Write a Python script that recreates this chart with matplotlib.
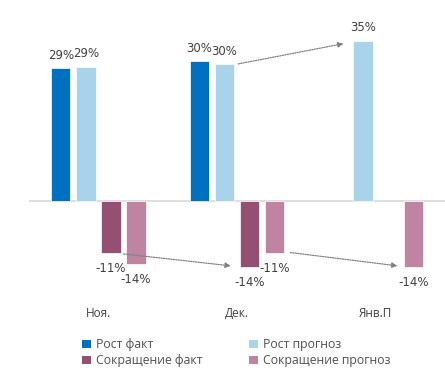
import matplotlib
matplotlib.use('Agg')
import matplotlib.pyplot as plt
from matplotlib.patches import Patch
import numpy as np

# data
months = ['Ноя.', 'Дек.', 'Янв.П']
series = ['Рост факт', 'Рост прогноз', 'Сокращение факт', 'Сокращение прогноз']
grow_fact = [28.9, 30.4, None]
grow_plan = [29.2, 29.7, 34.8]
cut_fact = [-11.3, -14.4, None]
cut_plan = [-13.7, -11.3, -14.4]
labels_grow_fact = ['29%', '30%', None]
labels_grow_plan = ['29%', '30%', '35%']
labels_cut_fact = ['-11%', '-14%', None]
labels_cut_plan = ['-14%', '-11%', '-14%']
colors = ['#0070C0', '#A9D3EA', '#954F72', '#C084A3']

plt.rcParams['font.family'] = ['Open Sans', 'DejaVu Sans']
num_font = ['Liberation Sans Narrow', 'DejaVu Sans']

fig = plt.figure(figsize=(4.45, 3.75), dpi=100)
ax = fig.add_axes([29/445, 1 - 293/375, 416/445, 276/375])

x = np.arange(len(months))
step = 0.1805
w = 0.14
px = 1 / 138.5  # one pixel in x data units
all_vals = [grow_fact, grow_plan, cut_fact, cut_plan]
all_labels = [labels_grow_fact, labels_grow_plan, labels_cut_fact, labels_cut_plan]

for i, (vals, labs, c) in enumerate(zip(all_vals, all_labels, colors)):
    off = (i - 1.5) * step
    for j, v in enumerate(vals):
        if v is None:
            continue
        ax.bar(x[j] + off, v, width=w, color=c, edgecolor='white', linewidth=0.5)
        if v > 0:
            ax.text(x[j] + off, v + 1.4, labs[j], ha='center', va='bottom',
                    fontsize=8.5, color='#404040', family=num_font)
        else:
            ax.text(x[j] + off, v - 1.9, labs[j], ha='center', va='top',
                    fontsize=8.5, color='#404040', family=num_font)

# dotted trend arrows
arrow = dict(arrowstyle='-|>', linestyle=(0, (1, 1)), color='#808080', lw=0.9,
             mutation_scale=8, shrinkA=0, shrinkB=0)
ax.annotate('', xy=(2 - 0.5 * step - w / 2 - 10 * px, grow_plan[2] - 0.6),
            xytext=(1 - 0.5 * step + w / 2 + 4 * px, grow_plan[1] + 0.1),
            arrowprops=arrow)
ax.annotate('', xy=(1 + 0.5 * step - w / 2 - 9 * px, cut_fact[1] + 0.3),
            xytext=(0 + 0.5 * step + w / 2 + 3 * px, cut_fact[0] - 0.2),
            arrowprops=arrow)
ax.annotate('', xy=(2 + 1.5 * step - w / 2 - 6 * px, cut_plan[2] + 0.3),
            xytext=(1 + 1.5 * step + w / 2 + 6 * px, cut_plan[1] + 0.1),
            arrowprops=arrow)

ax.axhline(0, color='#D9D9D9', lw=1.2, zorder=0)
ax.set_xlim(-0.5, 2.5)
ax.set_ylim(-20, 40)
for s in ax.spines.values():
    s.set_visible(False)
ax.set_yticks([])
ax.set_xticks(x)
ax.set_xticklabels(months, fontsize=8.5, color='#404040')
ax.tick_params(axis='x', length=0, pad=10)

# legend filled row by row like the original
order = [0, 2, 1, 3]
handles = [Patch(facecolor=colors[k], edgecolor='none') for k in order]
fig.legend(handles, [series[k] for k in order], loc='upper left',
           bbox_to_anchor=(0.16, 0.127), ncol=2, frameon=False, fontsize=8.8,
           handlelength=0.7, handleheight=0.7, handletextpad=0.4,
           columnspacing=3.85, labelspacing=0.25, labelcolor='#505050')

fig.savefig('out.png', dpi=100)
